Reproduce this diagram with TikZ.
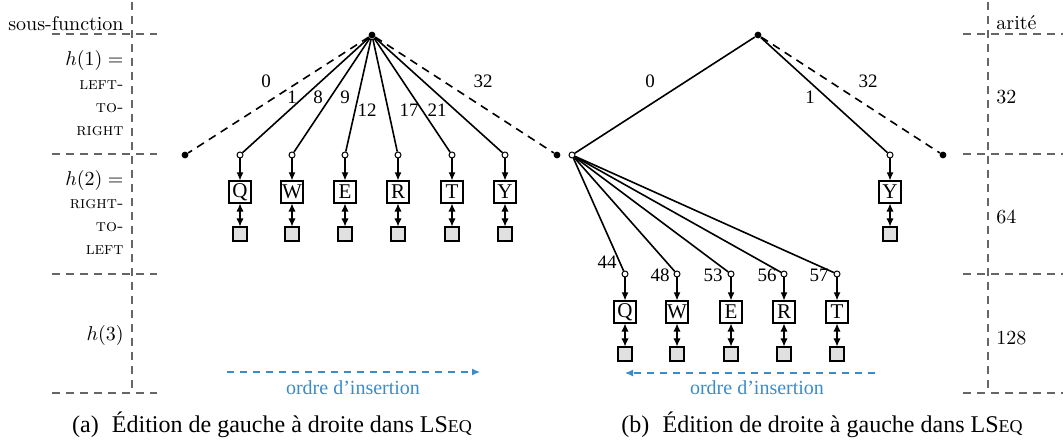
\documentclass[tikz,border=0pt]{standalone}
\usepackage{fontspec}
\newfontfamily\tms{Liberation Serif}
\usetikzlibrary{arrows.meta}
\definecolor{orderblue}{HTML}{3A8CC8}
\tikzset{
  grid/.style={draw=black!60, line width=0.7pt, dash pattern=on 4pt off 3pt},
  edge/.style={line width=0.8pt},
  dedge/.style={edge, dash pattern=on 4pt off 3pt},
  opendot/.style={circle, draw, fill=white, line width=0.5pt, inner sep=0pt, minimum size=3pt},
  fulldot/.style={circle, fill, inner sep=0pt, minimum size=3.4pt},
  letter/.style={draw, line width=0.55pt, inner sep=0pt, minimum size=11pt,
                 font=\tms\fontsize{10.5}{11}\selectfont},
  slot/.style={draw, line width=0.55pt, fill=black!12, inner sep=0pt, minimum size=7pt},
  ptr/.style={line width=0.55pt, -{Latex[length=4pt,width=3.4pt]}},
  link/.style={line width=0.55pt, {Latex[length=4pt,width=3.6pt]}-{Latex[length=4pt,width=3.6pt]}},
  elab/.style={inner sep=0pt, font=\tms\fontsize{9.5}{10}\selectfont},
  rowlab/.style={inner sep=0pt, anchor=base east, font=\fontsize{10}{12}\selectfont},
  sclab/.style={inner sep=0pt, anchor=base east, font=\fontsize{8.6}{10}\selectfont\scshape},
  arlab/.style={inner sep=0pt, anchor=base west, font=\fontsize{10}{12}\selectfont},
  order/.style={draw=orderblue, line width=0.6pt, dash pattern=on 3.5pt off 3pt,
                -{Latex[length=4pt,width=3.5pt]}},
  orderlab/.style={inner sep=0pt, anchor=base, text=orderblue, font=\tms\fontsize{10}{12}\selectfont},
  caption/.style={inner sep=0pt, anchor=base, font=\tms\fontsize{12}{14}\selectfont}
}
\begin{document}
\begin{tikzpicture}[x=0.5pt, y=-0.5pt]
\useasboundingbox (0,0) rectangle (1063,442);

% level grid, left column
\coordinate (gl0) at (132,2);   \coordinate (gl1) at (132,393);
\draw[grid] (gl0) -- (gl1);
\foreach \y [count=\k] in {34,154,274,393} {
  \coordinate (gla\k) at (52,\y); \coordinate (glb\k) at (157,\y);
  \draw[grid] (gla\k) -- (glb\k);
}
% level grid, right column
\coordinate (gr0) at (988,2);   \coordinate (gr1) at (988,393);
\draw[grid] (gr0) -- (gr1);
\foreach \y [count=\k] in {34,154,274,393} {
  \coordinate (gra\k) at (963,\y); \coordinate (grb\k) at (1063,\y);
  \draw[grid] (gra\k) -- (grb\k);
}

% row headers
\node[rowlab] (hsub) at (124,31) {sous-function};
\node[rowlab] (h1) at (124,66) {$h(1) =$};
\node[sclab] (h1a) at (124,90) {left-};
\node[sclab] (h1b) at (124,113) {to-};
\node[sclab] (h1c) at (124,136) {right};
\node[rowlab] (h2) at (124,186) {$h(2) =$};
\node[sclab] (h2a) at (124,209) {right-};
\node[sclab] (h2b) at (124,232) {to-};
\node[sclab] (h2c) at (124,255) {left};
\node[rowlab] (h3) at (124,341) {$h(3)$};

\node[arlab] (ar) at (996,30) {arité};
\node[arlab] (ar1) at (996,104) {32};
\node[arlab] (ar2) at (996,224) {64};
\node[arlab] (ar3) at (996,345) {128};

% (a) left-to-right editing
\node[fulldot] (La) at (372,35) {};
\node[fulldot] (Ll) at (185,155) {};
\node[fulldot] (Lr) at (557,155) {};
\draw[dedge] (La) -- (Ll);
\draw[dedge] (La) -- (Lr);
\foreach \x/\t [count=\i] in {240/Q,292/W,345/E,398/R,452/T,505/Y} {
  \node[opendot] (Lc\i) at (\x,155) {};
  \node[letter] (Lk\i) at (\x,192) {\t};
  \node[slot] (Ls\i) at (\x,234) {};
  \draw[edge] (La) -- (Lc\i);
  \draw[ptr] (Lc\i) -- (Lk\i);
  \draw[link] (Lk\i) -- (Ls\i);
}
\node[elab] (Le0) at (266,81) {0};
\node[elab] (Le1) at (292,97) {1};
\node[elab] (Le8) at (318,97) {8};
\node[elab] (Le9) at (345,97) {9};
\node[elab] (Le12) at (367,110) {12};
\node[elab] (Le17) at (409,110) {17};
\node[elab] (Le21) at (437,110) {21};
\node[elab] (Le32) at (483,81) {32};

\coordinate (Lo1) at (227,372); \coordinate (Lo2) at (480,372);
\draw[order] (Lo1) -- (Lo2);
\node[orderlab] (Lol) at (353,394) {ordre d’insertion};
\node[caption] (capa) at (272,432) {(a)\hspace{0.55em}Édition de gauche à droite dans LS{\fontsize{9}{10}\selectfont EQ}};

% (b) right-to-left editing
\node[fulldot] (Ra) at (758,35) {};
\node[opendot] (Rs) at (572,155) {};
\node[opendot] (Ry) at (890,155) {};
\node[fulldot] (Rr) at (943,155) {};
\draw[edge] (Ra) -- (Rs);
\draw[edge] (Ra) -- (Ry);
\draw[dedge] (Ra) -- (Rr);
\node[letter] (Rky) at (890,192) {Y};
\node[slot] (Rsy) at (890,234) {};
\draw[ptr] (Ry) -- (Rky);
\draw[link] (Rky) -- (Rsy);
\foreach \x/\t [count=\i] in {625/Q,677/W,731/E,784/R,837/T} {
  \node[opendot] (Rc\i) at (\x,274) {};
  \node[letter] (Rk\i) at (\x,312) {\t};
  \node[slot] (Rl\i) at (\x,354) {};
  \draw[edge] (Rs) -- (Rc\i);
  \draw[ptr] (Rc\i) -- (Rk\i);
  \draw[link] (Rk\i) -- (Rl\i);
}
\node[elab] (Re0) at (650,81) {0};
\node[elab] (Re1) at (810,97) {1};
\node[elab] (Re32) at (868,81) {32};
\node[elab] (Re44) at (607,262) {44};
\node[elab] (Re48) at (660,275) {48};
\node[elab] (Re53) at (713,275) {53};
\node[elab] (Re56) at (767,275) {56};
\node[elab] (Re57) at (819,275) {57};

\coordinate (Ro1) at (875,373); \coordinate (Ro2) at (625,373);
\draw[order] (Ro1) -- (Ro2);
\node[orderlab] (Rol) at (757,394) {ordre d’insertion};
\node[caption] (capb) at (822,432) {(b)\hspace{0.55em}Édition de droite à gauche dans LS{\fontsize{9}{10}\selectfont EQ}};
\end{tikzpicture}
\end{document}
